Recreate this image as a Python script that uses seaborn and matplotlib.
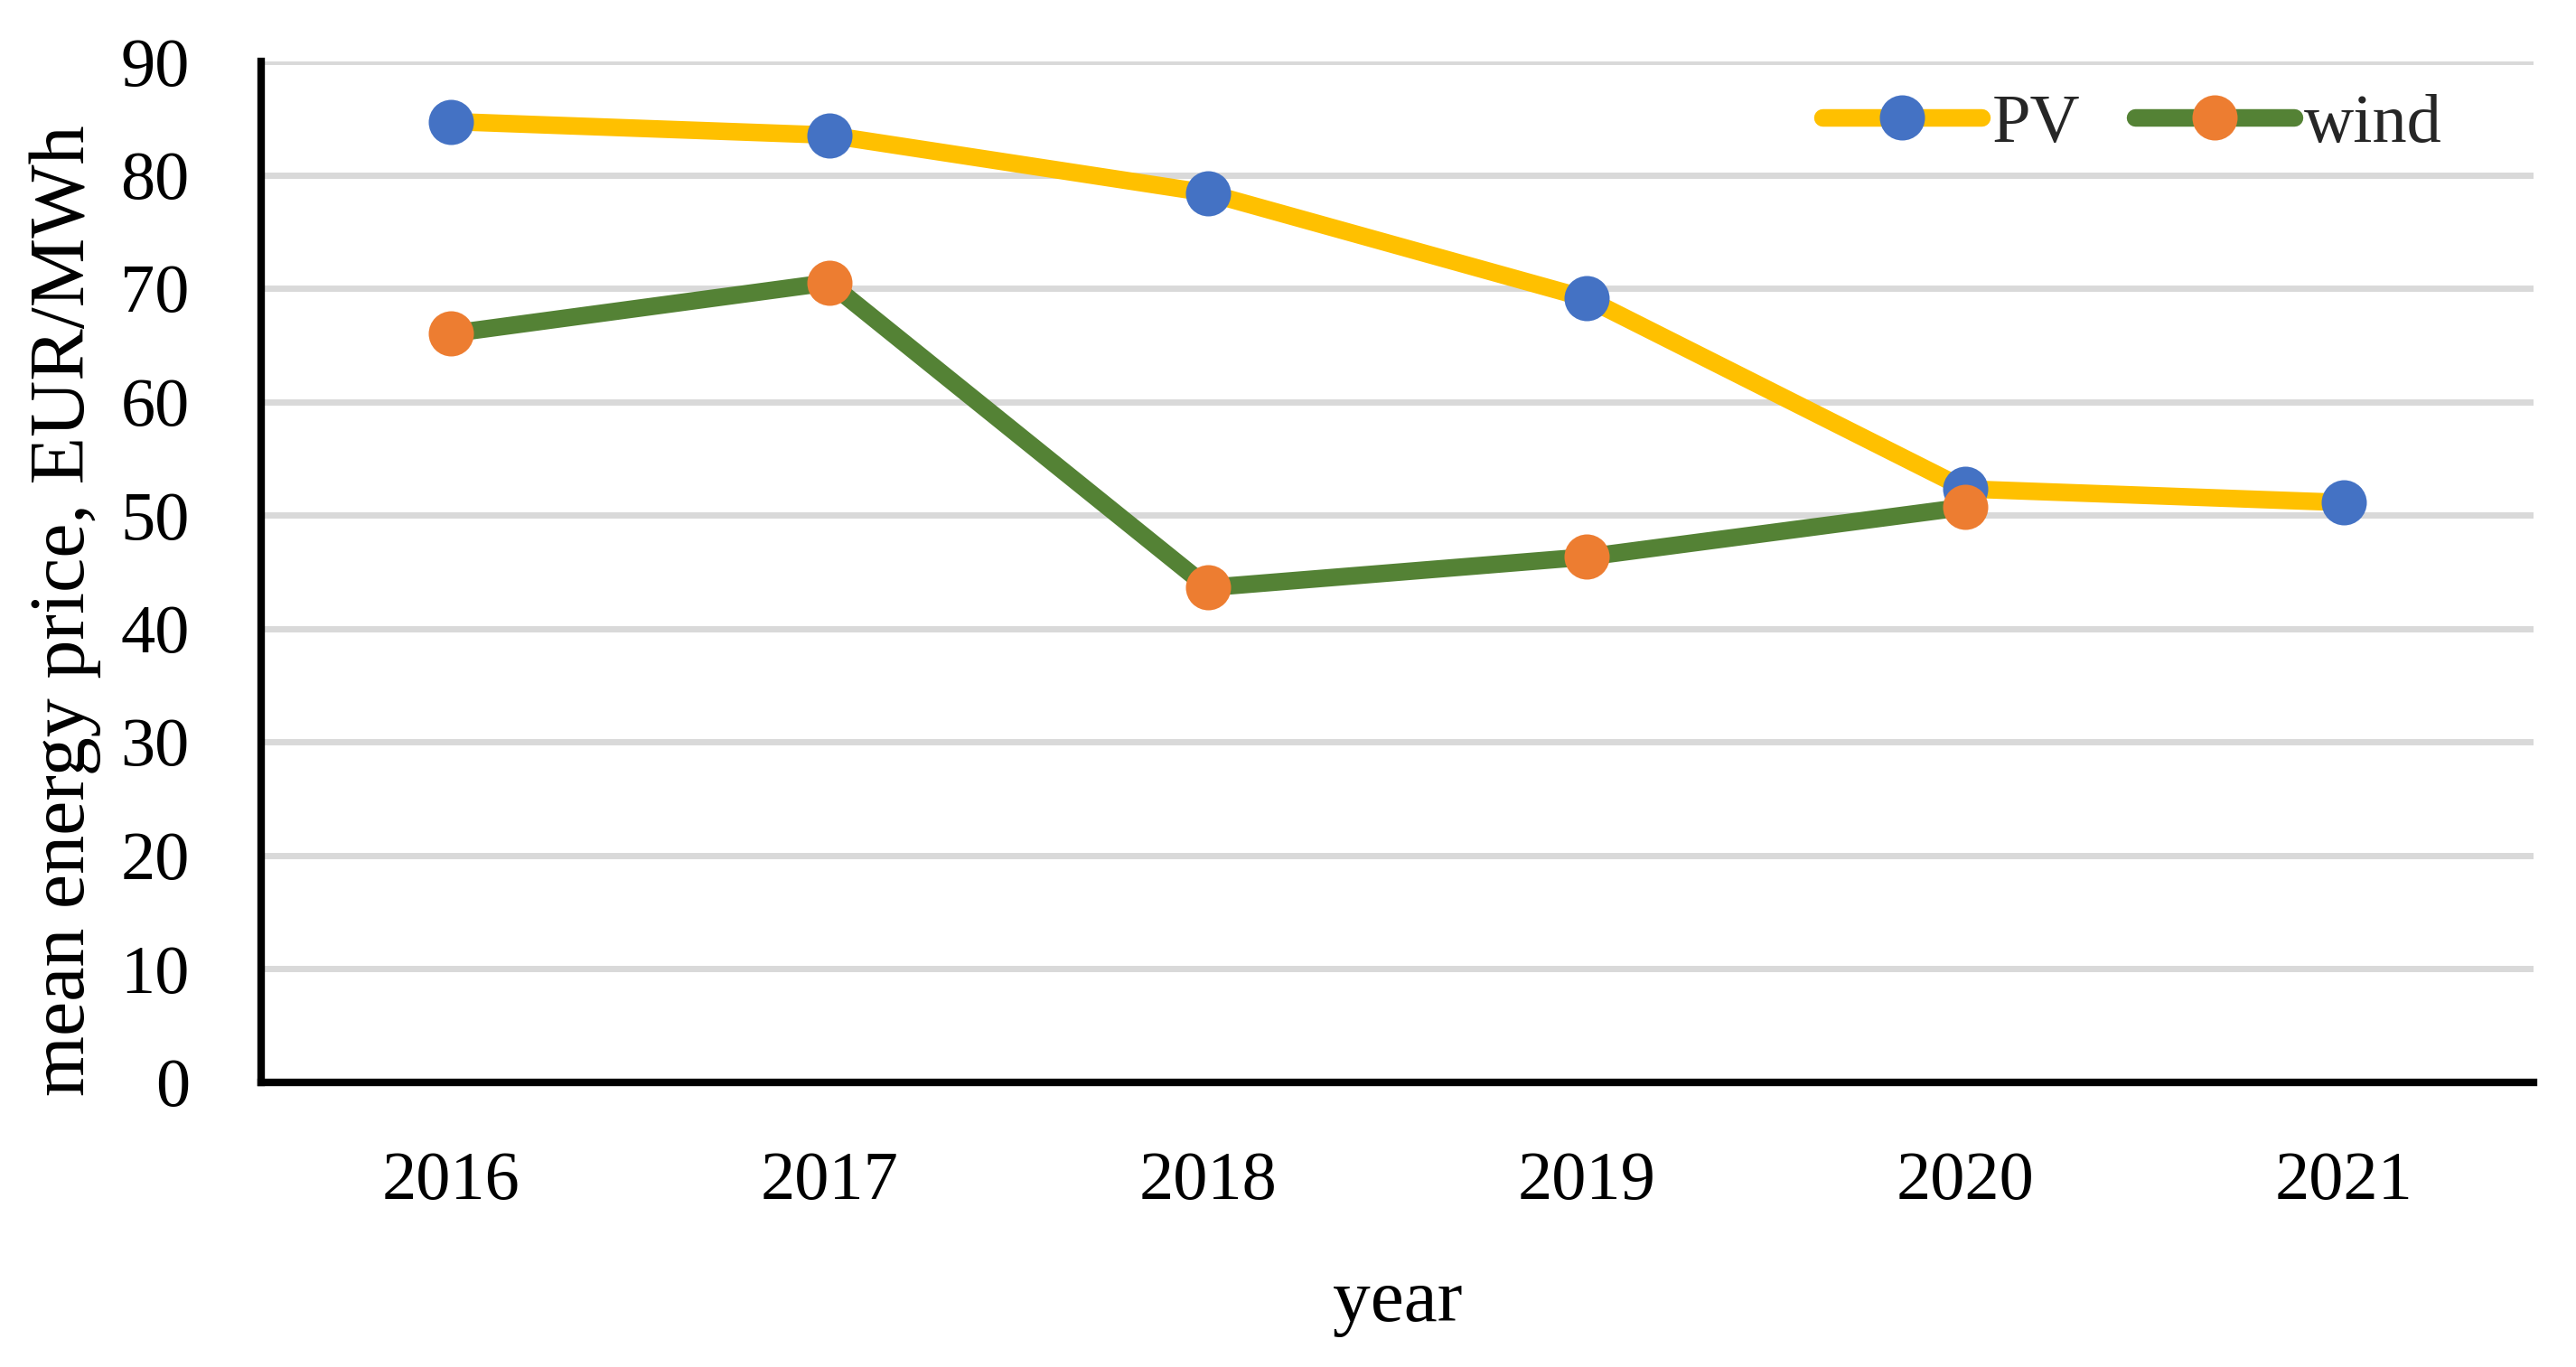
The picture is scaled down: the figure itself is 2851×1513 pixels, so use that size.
import numpy as np
import pandas as pd
import matplotlib
matplotlib.use('Agg')
import matplotlib.pyplot as plt
import seaborn as sns

# data
years      = [2016, 2017, 2018, 2019, 2020, 2021]
pv_price   = [84.7, 83.5, 78.4, 69.1, 52.3, 51.1]
wind_years = [2016, 2017, 2018, 2019, 2020]
wind_price = [66.0, 70.5, 43.6, 46.3, 50.7]
y_ticks    = [0, 10, 20, 30, 40, 50, 60, 70, 80, 90]

df_pv   = pd.DataFrame({'year': years, 'price': pv_price})
df_wind = pd.DataFrame({'year': wind_years, 'price': wind_price})

sns.set_theme(style='white')
plt.rcParams['font.family'] = ['Liberation Serif', 'DejaVu Serif']

W, H, DPI = 2851, 1513, 100
fig = plt.figure(figsize=(W / DPI, H / DPI), dpi=DPI)
x0, x1, yb, yt = 289, 2804, 1197.5, 68
ax = fig.add_axes([x0 / W, 1 - yb / H, (x1 - x0) / W, (yb - yt) / H])

FS = 55
LW = 14
MS = 36

sns.lineplot(data=df_pv, x='year', y='price', ax=ax, color='#FFC000', lw=LW,
             marker='o', markersize=MS, markerfacecolor='#4472C4',
             markeredgecolor='#4472C4', markeredgewidth=0,
             solid_capstyle='round', label='PV', clip_on=False, zorder=3)
sns.lineplot(data=df_wind, x='year', y='price', ax=ax, color='#548235', lw=LW,
             marker='o', markersize=MS, markerfacecolor='#ED7D31',
             markeredgecolor='#ED7D31', markeredgewidth=0,
             solid_capstyle='round', label='wind', clip_on=False, zorder=4)

ax.set_xlim(2015.5, 2021.5)
ax.set_ylim(0, 90)
ax.set_xticks(years)
ax.set_xticklabels([str(y) for y in years])
ax.set_yticks(y_ticks)
ax.tick_params(axis='both', length=0, labelsize=FS, colors='black')
ax.tick_params(axis='x', pad=55)
ax.tick_params(axis='y', pad=57)

ax.yaxis.grid(True, color='#D9D9D9', lw=5)
ax.xaxis.grid(False)
ax.set_axisbelow(True)
for s in ['top', 'right']:
    ax.spines[s].set_visible(False)
for s in ['left', 'bottom']:
    ax.spines[s].set_color('black')
    ax.spines[s].set_linewidth(6)

ax.set_ylabel('mean energy price, EUR/MWh', fontsize=62, color='black')
ax.yaxis.set_label_coords(-0.0704, 0.462)
ax.set_xlabel('year', fontsize=60, color='black', va='baseline')
ax.xaxis.set_label_coords(0.5, (yb - 1462) / (yb - yt))

leg = ax.legend(loc='center', bbox_to_anchor=(2360 / W, 1 - 138 / H),
                bbox_transform=fig.transFigure, ncol=2, frameon=False,
                fontsize=FS, handlelength=2.3, handletextpad=0.15,
                columnspacing=0.8, borderpad=0, markerscale=1.0)

fig.savefig('out.png', dpi=DPI)
